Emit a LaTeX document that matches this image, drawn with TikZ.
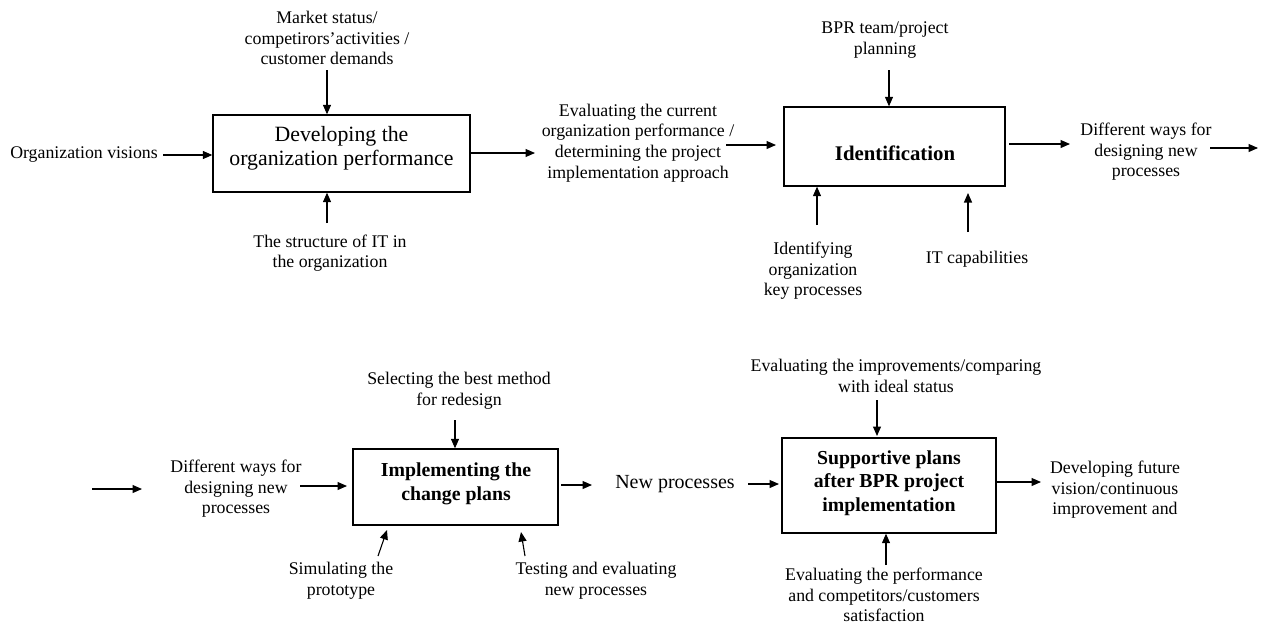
\documentclass[tikz,border=0pt]{standalone}
\usepackage{fontspec}
\setmainfont{Liberation Serif}
\usetikzlibrary{arrows.meta}
\begin{document}
\begin{tikzpicture}[x=1pt,y=-1pt,
  lbl/.style={align=center,inner sep=0pt,font=\fontsize{17.8}{20.6}\selectfont},
  procbox/.style={draw,line width=1.3pt,inner sep=0pt},
  ttl/.style={align=center,inner sep=0pt,font=\fontsize{19.8}{23.5}\selectfont\bfseries},
  ttlreg/.style={align=center,inner sep=0pt,font=\fontsize{21.8}{24}\selectfont},
  flow/.style={line width=1.1pt,-{Triangle[length=9.5pt,width=8pt]}}]
\useasboundingbox (0,0) rectangle (1261,624);

% ---------- Process 1: developing the organization performance ----------
\node[procbox,minimum width=257pt,minimum height=77pt] (b1) at (341.5,153.5) {};
\node[ttlreg] (t1) at (341.5,148.5) {Developing the\\organization performance};
\node[lbl] (m1) at (327,38) {Market status/\\competirors’activities /\\customer demands};
\node[lbl] (v1) at (84,155) {Organization visions};
\node[lbl] (s1) at (330,253) {The structure of IT in\\the organization};
\node[lbl] (e1) at (638,143) {Evaluating the current\\organization performance /\\determining the project\\implementation approach};

\coordinate (m1a) at (327,70);
\coordinate (v1a) at (163,155);
\coordinate (s1a) at (327,223);
\coordinate (o1a) at (535,153);
\draw[flow] (m1a) -- (m1a |- b1.north);
\draw[flow] (v1a) -- (v1a -| b1.west);
\draw[flow] (s1a) -- (s1a |- b1.south);
\draw[flow] (o1a -| b1.east) -- (o1a);

% ---------- Process 2: identification ----------
\node[procbox,minimum width=221pt,minimum height=79pt] (b2) at (894.5,146.5) {};
\node[ttl,font=\fontsize{20.8}{24}\selectfont\bfseries] (t2) at (895,153) {Identification};
\node[lbl] (p2) at (885,40) {BPR team/project\\planning};
\node[lbl] (k2) at (813,271) {Identifying\\organization\\key processes};
\node[lbl] (c2) at (977,259) {IT capabilities};
\node[lbl] (d2) at (1146,152) {Different ways for\\designing new\\processes};

\coordinate (e1a) at (726,145);
\coordinate (e1b) at (776,145);
\coordinate (p2a) at (889,70);
\coordinate (k2a) at (817,225);
\coordinate (c2a) at (968,232);
\coordinate (c2b) at (968,193);
\coordinate (o2a) at (1009,144);
\coordinate (o2b) at (1070,144);
\coordinate (d2a) at (1210,148);
\coordinate (d2b) at (1258,148);
\draw[flow] (e1a) -- (e1b);
\draw[flow] (p2a) -- (p2a |- b2.north);
\draw[flow] (k2a) -- (k2a |- b2.south);
\draw[flow] (c2a) -- (c2b);
\draw[flow] (o2a) -- (o2b);
\draw[flow] (d2a) -- (d2b);

% ---------- Process 3: implementing the change plans ----------
\node[procbox,minimum width=205pt,minimum height=76pt] (b3) at (455.5,487) {};
\node[ttl] (t3) at (456,484) {Implementing the\\change plans};
\node[lbl] (d3) at (236,489) {Different ways for\\designing new\\processes};
\node[lbl] (r3) at (459,391) {Selecting the best method\\for redesign};
\node[lbl] (s3) at (341,581) {Simulating the\\prototype};
\node[lbl] (x3) at (596,581) {Testing and evaluating\\new processes};
\node[lbl,font=\fontsize{20}{22}\selectfont] (n3) at (675,484) {New processes};

\coordinate (i3a) at (92,489);
\coordinate (i3b) at (142,489);
\coordinate (d3a) at (300,486);
\coordinate (d3b) at (347,486);
\coordinate (r3a) at (455,420);
\coordinate (s3a) at (378,556);
\coordinate (s3b) at (387,530);
\coordinate (x3a) at (525,556);
\coordinate (x3b) at (521,532);
\coordinate (o3a) at (561,485);
\coordinate (o3b) at (592,485);
\draw[flow] (i3a) -- (i3b);
\draw[flow] (d3a) -- (d3b);
\draw[flow] (r3a) -- (r3a |- b3.north);
\draw[flow] (s3a) -- (s3b);
\draw[flow] (x3a) -- (x3b);
\draw[flow] (o3a) -- (o3b);

% ---------- Process 4: supportive plans ----------
\node[procbox,minimum width=214pt,minimum height=95pt] (b4) at (889,485.5) {};
\node[ttl] (t4) at (889,483) {Supportive plans\\after BPR project\\implementation};
\node[lbl] (v4) at (896,376) {Evaluating the improvements/comparing\\with ideal status};
\node[lbl] (f4) at (884,595) {Evaluating the performance\\and competitors/customers\\satisfaction};
\node[lbl] (g4) at (1115,490) {Developing future\\vision/continuous\\improvement and};

\coordinate (n3a) at (748,484);
\coordinate (n3b) at (779,484);
\coordinate (v4a) at (877,400);
\coordinate (v4b) at (877,436);
\coordinate (f4a) at (886,565);
\coordinate (o4a) at (1041,482);
\draw[flow] (n3a) -- (n3b);
\draw[flow] (v4a) -- (v4b);
\draw[flow] (f4a) -- (f4a |- b4.south);
\draw[flow] (o4a -| b4.east) -- (o4a);
\end{tikzpicture}
\end{document}
